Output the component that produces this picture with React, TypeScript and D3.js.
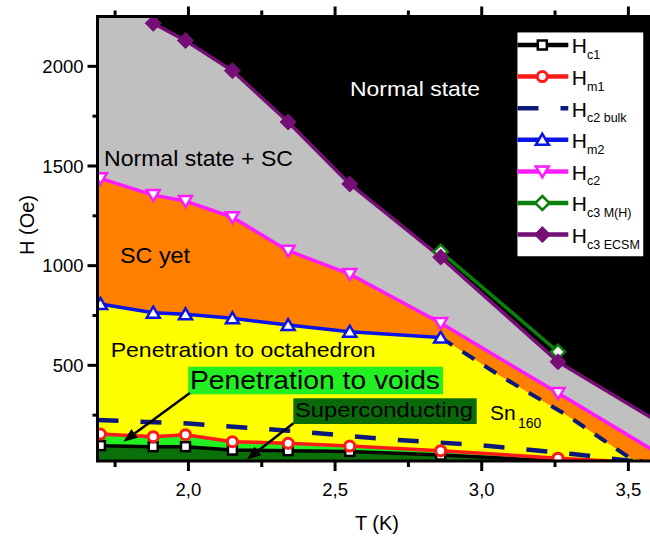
import React from 'react';
import * as d3 from 'd3';

// Measured temperatures (K) shared by most series
const temps = [1.70, 1.88, 1.99, 2.15, 2.34, 2.55, 2.86, 3.26];

// Hc1 (Oe)
const hc1Temps = temps;
const hc1Values = [97, 92, 92, 75, 72, 68, 50, 20];

// Hm1 (Oe); the final entry is where the curve runs out at the right edge
const hm1Temps = [...temps, 3.57];
const hm1Values = [155, 142, 152, 117, 109, 95, 72, 34, 10];

// Hm2 (Oe)
const hm2Temps = [1.70, 1.88, 1.99, 2.15, 2.34, 2.55, 2.86];
const hm2Values = [808, 764, 756, 736, 702, 669, 639];
// dashed continuation of Hm2 towards Tc
const hm2TailTemps = [2.86, 3.06, 3.29, 3.50, 3.56];
const hm2TailValues = [639, 450, 250, 40, 10];

// Hc2 bulk (Oe), dashed
const bulkTemps = [1.69, 2.0, 2.34, 2.66, 2.99, 3.31, 3.56];
const bulkValues = [226, 208, 172, 131, 100, 55, 12];

// Hc2 (Oe)
const hc2Temps = [...temps, 3.58];
const hc2Values = [1438, 1354, 1324, 1243, 1075, 958, 712, 361, 78];

// Hc3 from M(H)
const mhTemps = [2.86, 3.26];
const mhValues = [1070, 568];

// Hc3 from ECSM
const ecsmTemps = [1.88, 1.99, 2.15, 2.34, 2.55, 2.86, 3.26, 3.58];
const ecsmValues = [2216, 2129, 1978, 1721, 1410, 1043, 518, 235];

const xMajor = [2.0, 2.5, 3.0, 3.5];
const xMajorLabels = ['2,0', '2,5', '3,0', '3,5'];
const xMinor = [1.75, 2.25, 2.75, 3.25];
const yMajor = [500, 1000, 1500, 2000];
const yMinor = [250, 750, 1250, 1750];

const FONT = "Arial, 'Liberation Sans', sans-serif";

type P = [number, number];
const zip = (ts: number[], hs: number[]): P[] => ts.map((t, i) => [t, hs[i]]);

const x = d3.scaleLinear().domain([1.69, 3.6]).range([97.5, 657.7]);
const y = d3.scaleLinear().domain([20, 2250]).range([461, 16.5]);

const [x0, x1] = x.range();
const [yb, yt] = y.range();
const tMin = x.domain()[0];
const hMax = y.domain()[1];

const line = d3.line<P>().x(d => x(d[0])).y(d => y(d[1]));
const area = d3.area<P>().x(d => x(d[0])).y0(yb).y1(d => y(d[1]));

function Marker({ kind, cx, cy, color }: { kind: string; cx: number; cy: number; color: string }) {
  if (kind === 'square')
    return <rect x={cx - 4.5} y={cy - 4.5} width={9} height={9} fill="#fff" stroke={color} strokeWidth={2.5} />;
  if (kind === 'circle')
    return <circle cx={cx} cy={cy} r={5} fill="#fff" stroke={color} strokeWidth={3} />;
  if (kind === 'up')
    return <path d={`M${cx},${cy - 6}L${cx + 6.5},${cy + 5}L${cx - 6.5},${cy + 5}Z`} fill="#fff" stroke={color} strokeWidth={2.5} />;
  if (kind === 'down')
    return <path d={`M${cx},${cy + 6}L${cx + 6.5},${cy - 5}L${cx - 6.5},${cy - 5}Z`} fill="#fff" stroke={color} strokeWidth={2.5} />;
  if (kind === 'diamondOpen')
    return <path d={`M${cx},${cy - 7}L${cx + 7},${cy}L${cx},${cy + 7}L${cx - 7},${cy}Z`} fill="#fff" stroke={color} strokeWidth={2.5} />;
  if (kind === 'diamond')
    return <path d={`M${cx},${cy - 8}L${cx + 8},${cy}L${cx},${cy + 8}L${cx - 8},${cy}Z`} fill={color} stroke={color} strokeWidth={1} />;
  return null;
}

const series = [
  { key: 'hc1', pts: zip(hc1Temps, hc1Values), marks: 8, color: '#000000', kind: 'square', sub: 'c1', dash: '' },
  { key: 'hm1', pts: zip(hm1Temps, hm1Values), marks: 8, color: '#ff1a1a', kind: 'circle', sub: 'm1', dash: '' },
  { key: 'bulk', pts: zip(bulkTemps, bulkValues), marks: 0, color: '#0b1a7a', kind: '', sub: 'c2 bulk', dash: '21 22' },
  { key: 'hm2', pts: zip(hm2Temps, hm2Values), marks: 7, color: '#0a14e6', kind: 'up', sub: 'm2', dash: '' },
  { key: 'hc2', pts: zip(hc2Temps, hc2Values), marks: 8, color: '#ff1aff', kind: 'down', sub: 'c2', dash: '' },
  { key: 'mh', pts: zip(mhTemps, mhValues), marks: 2, color: '#0a800a', kind: 'diamondOpen', sub: 'c3 M(H)', dash: '' },
  { key: 'ecsm', pts: zip(ecsmTemps, ecsmValues), marks: 7, color: '#750f75', kind: 'diamond', sub: 'c3 ECSM', dash: '' },
];

function Arrow({ from, to }: { from: P; to: P }) {
  const fx = x(from[0]), fy = y(from[1]), tx = x(to[0]), ty = y(to[1]);
  const dx = tx - fx, dy = ty - fy;
  const len = Math.hypot(dx, dy);
  const ux = dx / len, uy = dy / len;
  const hl = 14, hw = 5.5;
  const bx = tx - ux * hl, by = ty - uy * hl;
  return (
    <g>
      <line x1={fx} y1={fy} x2={bx} y2={by} stroke="#000" strokeWidth={2.5} />
      <path d={`M${tx},${ty}L${bx - uy * hw},${by + ux * hw}L${bx + uy * hw},${by - ux * hw}Z`} fill="#000" />
    </g>
  );
}

export default function App() {
  const grayFill: P[] = [[tMin, hMax], [ecsmTemps[0], hMax], ...zip(ecsmTemps, ecsmValues)];
  const orangeFill: P[] = [[tMin, hc2Values[0]], ...zip(hc2Temps, hc2Values)];
  const yellowFill: P[] = [[tMin, hm2Values[0]], ...zip(hm2Temps, hm2Values), ...zip(hm2TailTemps, hm2TailValues).slice(1)];
  const limeFill: P[] = [[tMin, hm1Values[0]], ...zip(hm1Temps, hm1Values)];
  const darkFill: P[] = [[tMin, hc1Values[0]], ...zip(hc1Temps, hc1Values)];

  const legendX = 516.7, legendY = 31.7, legendW = 127.3, legendH = 225.3;

  return (
    <svg width={650} height={541} style={{ position: 'absolute', left: 0, top: 0, background: '#fff' }} fontFamily={FONT}>
      <defs>
        <clipPath id="plotClip">
          <rect x={x0} y={yt} width={x1 - x0} height={yb - yt} />
        </clipPath>
      </defs>

      <g clipPath="url(#plotClip)">
        <rect x={x0} y={yt} width={x1 - x0} height={yb - yt} fill="#000" />
        <path d={area(grayFill) || ''} fill="#c0c0c0" />
        <path d={area(orangeFill) || ''} fill="#ff8000" />
        <path d={area(yellowFill) || ''} fill="#ffff00" />
        <path d={area(limeFill) || ''} fill="#22f022" />
        <path d={area(darkFill) || ''} fill="#0a700a" />

        {/* region labels */}
        <text x={350} y={96} fontSize={21} fill="#fff" textLength={130} lengthAdjust="spacingAndGlyphs">Normal state</text>
        <text x={104} y={166} fontSize={22} fill="#000" textLength={189} lengthAdjust="spacingAndGlyphs">Normal state + SC</text>
        <text x={120} y={263} fontSize={22} fill="#000" textLength={70} lengthAdjust="spacingAndGlyphs">SC yet</text>
        <text x={110.7} y={357} fontSize={21} fill="#000" textLength={265} lengthAdjust="spacingAndGlyphs">Penetration to octahedron</text>
        <rect x={188.3} y={366.7} width={254.7} height={27.6} fill="#22f022" />
        <text x={190} y={389} fontSize={26} fill="#000" textLength={250} lengthAdjust="spacingAndGlyphs">Penetration to voids</text>
        <rect x={293.3} y={398.3} width={183.4} height={25.7} fill="#0a6a0a" />
        <text x={295} y={416.7} fontSize={21} fill="#000" textLength={178} lengthAdjust="spacingAndGlyphs">Superconducting</text>
        <text x={490} y={420} fontSize={21} fill="#000">Sn<tspan x={518} y={428} fontSize={14}>160</tspan></text>

        {/* curves */}
        <path d={line(zip(hm2TailTemps, hm2TailValues)) || ''} fill="none" stroke="#0b1a7a" strokeWidth={4} strokeDasharray="14 12" />
        {series.map(s => (
          <path key={s.key} d={line(s.pts) || ''} fill="none" stroke={s.color}
            strokeWidth={s.dash ? 4.5 : 3.5} strokeDasharray={s.dash || undefined} strokeLinejoin="round" />
        ))}
        {series.map(s => (
          <g key={s.key + 'm'}>
            {s.pts.slice(0, s.marks).map((p, i) => (
              <Marker key={i} kind={s.kind} cx={x(p[0])} cy={y(p[1])} color={s.color} />
            ))}
          </g>
        ))}

        <Arrow from={[2.005, 361]} to={[1.778, 117]} />
        <Arrow from={[2.358, 209]} to={[2.199, 27]} />

        {/* legend */}
        <rect x={legendX} y={legendY} width={legendW} height={legendH} fill="#fff" stroke="#000" strokeWidth={1.5} />
        {series.map((s, i) => {
          const cy = 45 + i * 31.6;
          return (
            <g key={s.key + 'l'}>
              <line x1={legendX + 0.8} x2={568.3} y1={cy} y2={cy} stroke={s.color} strokeWidth={4.5}
                strokeDasharray={s.dash || undefined} />
              {s.kind && <Marker kind={s.kind} cx={542.3} cy={cy} color={s.color} />}
              <text x={571.7} y={cy + 8.3} fontSize={21} fill="#000">H</text>
              <text x={587} y={cy + 14} fontSize={12.5} fill="#000">{s.sub}</text>
            </g>
          );
        })}
      </g>

      {/* frame */}
      <rect x={x0} y={yt} width={x1 - x0} height={yb - yt} fill="none" stroke="#000" strokeWidth={3} />

      {/* x ticks bottom and top */}
      {xMajor.map(t => (
        <g key={'xM' + t}>
          <line x1={x(t)} x2={x(t)} y1={yb} y2={yb + 10} stroke="#000" strokeWidth={3} />
          <line x1={x(t)} x2={x(t)} y1={yt} y2={yt - 10} stroke="#000" strokeWidth={3} />
        </g>
      ))}
      {xMinor.map(t => (
        <g key={'xm' + t}>
          <line x1={x(t)} x2={x(t)} y1={yb} y2={yb + 6} stroke="#000" strokeWidth={3} />
          <line x1={x(t)} x2={x(t)} y1={yt} y2={yt - 6} stroke="#000" strokeWidth={3} />
        </g>
      ))}
      {xMajor.map((t, i) => (
        <text key={'xl' + t} x={x(t)} y={496} fontSize={18.5} textAnchor="middle" fill="#000">{xMajorLabels[i]}</text>
      ))}

      {/* y ticks */}
      {yMajor.map(v => (
        <g key={'yM' + v}>
          <line x1={x0} x2={x0 - 10} y1={y(v)} y2={y(v)} stroke="#000" strokeWidth={3} />
          <text x={83.5} y={y(v) + 6.7} fontSize={18.5} textAnchor="end" fill="#000">{v}</text>
        </g>
      ))}
      {yMinor.map(v => (
        <line key={'ym' + v} x1={x0} x2={x0 - 5} y1={y(v)} y2={y(v)} stroke="#000" strokeWidth={3} />
      ))}

      {/* axis titles */}
      <text x={377} y={530} fontSize={20} textAnchor="middle" fill="#000">T (K)</text>
      <text transform={`translate(34,225) rotate(-90)`} fontSize={20} textAnchor="middle" fill="#000">H (Oe)</text>
    </svg>
  );
}
